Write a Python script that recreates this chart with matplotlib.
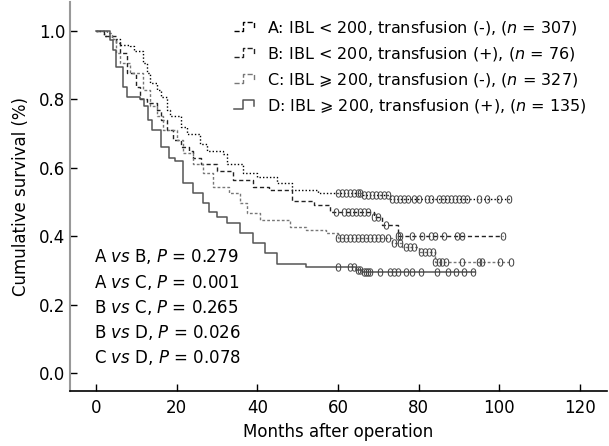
import numpy as np
import matplotlib
matplotlib.use("Agg")
import matplotlib.pyplot as plt
from matplotlib.lines import Line2D
from matplotlib.legend_handler import HandlerBase

plt.rcParams['font.family'] = ['DejaVu Sans']

# Kaplan-Meier step data (months, survival)
a_t = [0, 2, 4, 6, 8.4, 9.5, 11.7, 12.6, 13.4, 15, 16, 17.6, 18.4, 21, 22.6, 25.8, 27.5,
       31.5, 32.5, 36.5, 40, 45, 48.6, 55, 66, 73, 103]
a_s = [1.0, 0.985, 0.975, 0.96, 0.955, 0.94, 0.906, 0.877, 0.848, 0.827, 0.807, 0.77, 0.75,
       0.72, 0.70, 0.67, 0.65, 0.64, 0.61, 0.585, 0.573, 0.555, 0.535, 0.526, 0.52, 0.51, 0.51]
a_cens = [60, 61, 62, 63, 64, 65, 65.5, 66.5, 67.5, 68.5, 69.5, 70.5, 71.5, 72.5,
          73.5, 74.5, 75.5, 76.5, 77.5, 79, 80, 82, 83, 85, 86, 87, 88, 89, 90, 91, 92,
          95, 97, 100, 102.5]

b_t = [0, 2, 5, 6, 7.6, 10, 11, 12.6, 15, 16, 17.6, 19, 21, 23, 24, 26, 30, 34, 39, 43,
       48.6, 54, 58, 69, 71, 75, 101]
b_s = [1.0, 0.985, 0.965, 0.935, 0.877, 0.836, 0.80, 0.79, 0.77, 0.74, 0.71, 0.68, 0.66,
       0.65, 0.63, 0.61, 0.59, 0.565, 0.545, 0.535, 0.503, 0.49, 0.47, 0.456, 0.433, 0.40, 0.40]
b_cens = [59.5, 61.5, 62.5, 63.5, 64.5, 65.5, 66.5, 67.5, 69, 70, 72, 75,
          75.5, 78.4, 80.9, 83, 84, 86.3, 89.6, 90.8, 101]

c_t = [0, 2.7, 4, 5, 6, 8.4, 11.7, 13.4, 15, 16.6, 20, 21.6, 24, 26.5, 29, 33, 35.7, 37.5,
       40.7, 48, 52, 57, 60, 73.5, 76, 80, 84, 103]
c_s = [1.0, 0.994, 0.975, 0.935, 0.906, 0.877, 0.827, 0.78, 0.75, 0.71, 0.68, 0.643, 0.61,
       0.585, 0.545, 0.526, 0.497, 0.468, 0.447, 0.427, 0.418, 0.41, 0.395, 0.38, 0.37,
       0.355, 0.325, 0.325]
c_cens = [60, 61, 62, 63, 64, 65, 66, 67, 68, 69, 70, 71, 72.5, 74, 75.5, 77, 78, 79,
          80.5, 81.5, 82.5, 83.5, 84.2, 85, 85.9, 86.7, 90.8, 94.9, 95.7, 100.1, 103]

d_t = [0, 3.5, 4.2, 5, 6.7, 7.6, 11, 12, 13, 14, 16, 18, 19.6, 21.6, 24, 26.5, 28, 30,
       32.5, 35.7, 39, 42, 45, 52, 64.5, 66, 94]
d_s = [1.0, 0.974, 0.944, 0.895, 0.836, 0.807, 0.80, 0.78, 0.74, 0.71, 0.66, 0.63, 0.62,
       0.555, 0.526, 0.497, 0.47, 0.455, 0.44, 0.41, 0.38, 0.35, 0.32, 0.31, 0.30, 0.295, 0.295]
d_cens = [60, 63, 64, 65, 65.5, 66.5, 67, 67.5, 68, 70.5, 73, 74, 75, 77, 78.5, 80.5,
          84.5, 87.3, 89.4, 91.4, 93.5]

labels = [r"A: IBL < 200, transfusion (-), ($\it{n}$ = 307)",
          r"B: IBL < 200, transfusion (+), ($\it{n}$ = 76)",
          "C: IBL \u2a7e 200, transfusion (-), ($\\it{n}$ = 327)",
          "D: IBL \u2a7e 200, transfusion (+), ($\\it{n}$ = 135)"]
pvals = [r"A $\it{vs}$ B, $\it{P}$ = 0.279",
         r"A $\it{vs}$ C, $\it{P}$ = 0.001",
         r"B $\it{vs}$ C, $\it{P}$ = 0.265",
         r"B $\it{vs}$ D, $\it{P}$ = 0.026",
         r"C $\it{vs}$ D, $\it{P}$ = 0.078"]

styles = [dict(color="black", ls=(0, (1, 1.5)), lw=1.0),
          dict(color="#222222", ls=(0, (3, 2)), lw=1.0),
          dict(color="#777777", ls=(0, (2, 1.5)), lw=1.0),
          dict(color="#555555", ls="-", lw=1.1)]


class StepHandler(HandlerBase):
    def create_artists(self, legend, orig_handle, xdescent, ydescent, width, height,
                       fontsize, trans):
        w, h = width, height
        xs = np.array([0, 0.45 * w, 0.45 * w, w, w]) - xdescent
        ys = np.array([0.1 * h, 0.1 * h, 0.9 * h, 0.9 * h, 0.4 * h]) - ydescent
        ln = Line2D(xs, ys, color=orig_handle.get_color(), linestyle=orig_handle.get_linestyle(),
                    linewidth=orig_handle.get_linewidth())
        ln.set_transform(trans)
        return [ln]


def step_val(t, s, x):
    idx = np.searchsorted(t, x, side="right") - 1
    return np.array(s)[idx]


fig = plt.figure(figsize=(6.09, 4.46), dpi=100)
ax = fig.add_axes([0.115, 0.123, 0.882, 0.873])

handles = []
for t, s, cens, st in zip([a_t, b_t, c_t, d_t], [a_s, b_s, c_s, d_s],
                          [a_cens, b_cens, c_cens, d_cens], styles):
    ln, = ax.plot(t, s, drawstyle="steps-post", **st)
    handles.append(ln)
    ax.plot(cens, step_val(t, s, cens), ls="none", marker="$0$", ms=6,
            color="#444444", mew=0)

ax.set_xlim(-6.45, 126.8)
ax.set_ylim(-0.0526, 1.085)
ax.set_xticks([0, 20, 40, 60, 80, 100, 120])
ax.set_yticks([0.0, 0.2, 0.4, 0.6, 0.8, 1.0])
ax.set_yticklabels(["0.0", "0.2", "0.4", "0.6", "0.8", "1.0"])
ax.tick_params(direction="in", length=5, labelsize=12, width=1)
ax.tick_params(axis="x", pad=6)
ax.spines["top"].set_visible(False)
ax.spines["right"].set_visible(False)
ax.spines["left"].set_color("#999999")
ax.spines["left"].set_linewidth(1.5)
ax.spines["bottom"].set_linewidth(1.2)
ax.set_xlabel("Months after operation", fontsize=12, labelpad=4)
ax.set_ylabel("Cumulative survival (%)", fontsize=12, labelpad=6)

ax.legend(handles, labels, loc="upper left", bbox_to_anchor=(0.36, 0.99),
          bbox_transform=fig.transFigure, frameon=False, fontsize=11.5,
          handlelength=1.3, handletextpad=0.8, labelspacing=0.5,
          handler_map={Line2D: StepHandler()})

for i, p in enumerate(pvals):
    fig.text(0.154, 0.424 - i * 0.0565, p, fontsize=12, va="center", ha="left")

fig.savefig("out.png", dpi=100)
